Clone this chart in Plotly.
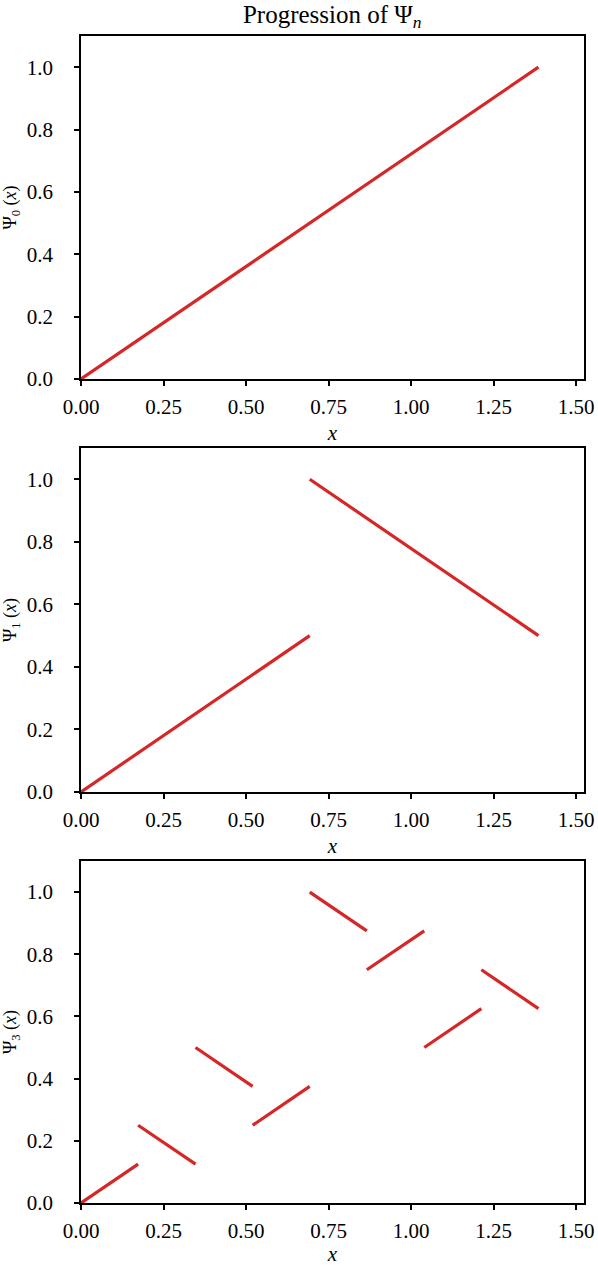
import plotly.graph_objects as go

# segment endpoints, None breaks the line between pieces
psi0_x = [0.0, 1.386]
psi0_y = [0.0, 1.0]

psi1_x = [0.0, 0.693, None, 0.693, 1.386]
psi1_y = [0.0, 0.5, None, 1.0, 0.5]

psi3_x = [0.0, 0.173, None, 0.173, 0.347, None, 0.347, 0.520, None, 0.520, 0.693, None,
          0.693, 0.866, None, 0.866, 1.040, None, 1.040, 1.213, None, 1.213, 1.386]
psi3_y = [0.0, 0.125, None, 0.25, 0.125, None, 0.5, 0.375, None, 0.25, 0.375, None,
          1.0, 0.875, None, 0.75, 0.875, None, 0.5, 0.625, None, 0.75, 0.625]

panels = [(psi0_x, psi0_y, "0"), (psi1_x, psi1_y, "1"), (psi3_x, psi3_y, "3")]
domains = [[0.7061, 1.0], [0.3522, 0.6470], [0.0, 0.2931]]

FONT = "Liberation Serif"
fig = go.Figure()

for i, (xs, ys, n) in enumerate(panels):
    k = "" if i == 0 else str(i + 1)
    fig.add_trace(go.Scatter(x=xs, y=ys, mode="lines", xaxis="x" + k, yaxis="y" + k,
                             line=dict(color="#d62728", width=3.2), showlegend=False,
                             connectgaps=False, hoverinfo="skip"))
    ax = dict(showline=True, linecolor="black", linewidth=1.5, mirror=True,
              ticks="outside", ticklen=5, tickwidth=1.5, tickcolor="black",
              showgrid=False, zeroline=False, automargin=False,
              tickfont=dict(family=FONT, size=21, color="black"))
    fig.layout["xaxis" + k] = dict(ax, range=[0, 1.524], tickvals=[0, 0.25, 0.5, 0.75, 1.0, 1.25, 1.5],
                                   ticktext=["0.00", "0.25", "0.50", "0.75", "1.00", "1.25", "1.50"],
                                   anchor="y" + k, domain=[0, 1], ticklabelstandoff=3,
                                   title=dict(text="<i>x</i>", standoff=7,
                                              font=dict(family=FONT, size=21, color="black")))
    fig.layout["yaxis" + k] = dict(ax, range=[0, 1.1], tickvals=[0, 0.2, 0.4, 0.6, 0.8, 1.0],
                                   ticktext=["0.0", "0.2", "0.4", "0.6", "0.8", "1.0"],
                                   anchor="x" + k, domain=domains[i], ticklabelstandoff=17,
                                   title=dict(text="Ψ<sub>" + n + "</sub> (<i>x</i>)", standoff=6,
                                              font=dict(family=FONT, size=18, color="black")))

fig.update_layout(
    width=598, height=1266,
    margin=dict(l=81, r=14, t=36, b=63),
    plot_bgcolor="white", paper_bgcolor="white",
    font=dict(family=FONT, size=21, color="black"),
    title=dict(text="Progression of Ψ<sub><i>n</i></sub>", x=0.5556, xanchor="center",
               y=1 - 14 / 1266, yanchor="middle", font=dict(family=FONT, size=25, color="black")),
)

# drop the browser's default body margin so the figure sits at the page corner
fig.write_html("out.html", config={"displayModeBar": False},
               post_script="document.body.style.margin='0';")
